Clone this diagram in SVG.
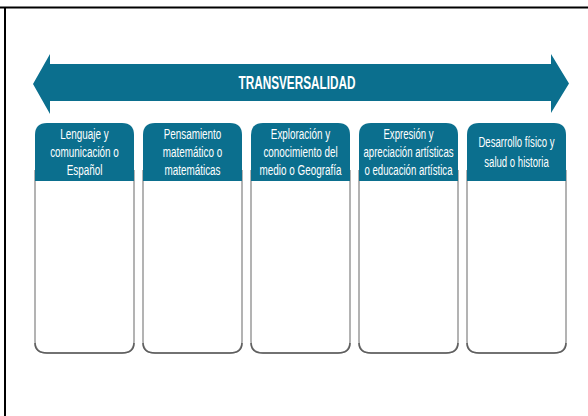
<svg xmlns="http://www.w3.org/2000/svg" width="588" height="416" viewBox="0 0 588 416">
<style>
.frame{stroke:#000;stroke-width:2;fill:none}
.hdr{fill:#0b6f8e}
.body{fill:#fff;stroke:#9a9a9a;stroke-width:1.5}
.shade{fill:none;stroke:#5e5e5e;stroke-width:1.5}
.lbl{font-family:"Liberation Sans",Arial,sans-serif;font-size:15px;fill:#fff;text-anchor:middle}
.title{font-family:"Liberation Sans",Arial,sans-serif;font-size:19px;font-weight:bold;fill:#fff;text-anchor:middle}
</style>
<rect width="588" height="416" fill="#fff"/>
<g id="frame">
<line class="frame" x1="0" y1="7.5" x2="588" y2="7.5"/>
<line class="frame" x1="5" y1="7" x2="5" y2="416"/>
</g>
<g id="arrow">
<polygon class="hdr" points="33,84 50,54 50,64 551,64 551,54 569,83.5 551,113 551,101 50,101 50,114"/>
<g transform="translate(297 0) scale(0.62 1)">
<text class="title" x="0" y="89.5">TRANSVERSALIDAD</text>
</g>
</g>
<g id="box1">
<path class="body" d="M35,170 V341 Q35,353 47,353 H122 Q134,353 134,341 V170"/>
<path class="shade" d="M35,343 Q35,353 47,353 H122 Q134,353 134,343"/>
<path class="hdr" d="M35,181 V135 Q35,123 47,123 H122 Q134,123 134,135 V181 Z"/>
<g transform="translate(84.5 0) scale(0.66 1)">
<text class="lbl" x="0" y="139.5">Lenguaje y</text>
<text class="lbl" x="0" y="157.5">comunicación o</text>
<text class="lbl" x="0" y="175.5">Español</text>
</g>
</g>
<g id="box2">
<path class="body" d="M143,170 V341 Q143,353 155,353 H230 Q242,353 242,341 V170"/>
<path class="shade" d="M143,343 Q143,353 155,353 H230 Q242,353 242,343"/>
<path class="hdr" d="M143,181 V135 Q143,123 155,123 H230 Q242,123 242,135 V181 Z"/>
<g transform="translate(192.5 0) scale(0.66 1)">
<text class="lbl" x="0" y="139.5">Pensamiento</text>
<text class="lbl" x="0" y="157.5">matemático o</text>
<text class="lbl" x="0" y="175.5">matemáticas</text>
</g>
</g>
<g id="box3">
<path class="body" d="M251,170 V341 Q251,353 263,353 H338 Q350,353 350,341 V170"/>
<path class="shade" d="M251,343 Q251,353 263,353 H338 Q350,353 350,343"/>
<path class="hdr" d="M251,181 V135 Q251,123 263,123 H338 Q350,123 350,135 V181 Z"/>
<g transform="translate(300.5 0) scale(0.66 1)">
<text class="lbl" x="0" y="139.5">Exploración y</text>
<text class="lbl" x="0" y="157.5">conocimiento del</text>
<text class="lbl" x="0" y="175.5">medio o Geografía</text>
</g>
</g>
<g id="box4">
<path class="body" d="M359,170 V341 Q359,353 371,353 H446 Q458,353 458,341 V170"/>
<path class="shade" d="M359,343 Q359,353 371,353 H446 Q458,353 458,343"/>
<path class="hdr" d="M359,181 V135 Q359,123 371,123 H446 Q458,123 458,135 V181 Z"/>
<g transform="translate(408.5 0) scale(0.64 1)">
<text class="lbl" x="0" y="139.5">Expresión y</text>
<text class="lbl" x="0" y="157.5">apreciación artísticas</text>
<text class="lbl" x="0" y="175.5">o educación artística</text>
</g>
</g>
<g id="box5">
<path class="body" d="M467,170 V341 Q467,353 479,353 H554 Q566,353 566,341 V170"/>
<path class="shade" d="M467,343 Q467,353 479,353 H554 Q566,353 566,343"/>
<path class="hdr" d="M467,181 V135 Q467,123 479,123 H554 Q566,123 566,135 V181 Z"/>
<g transform="translate(516.5 0) scale(0.64 1)">
<text class="lbl" x="0" y="147">Desarrollo físico y</text>
<text class="lbl" x="0" y="167">salud o historia</text>
</g>
</g>
</svg>
